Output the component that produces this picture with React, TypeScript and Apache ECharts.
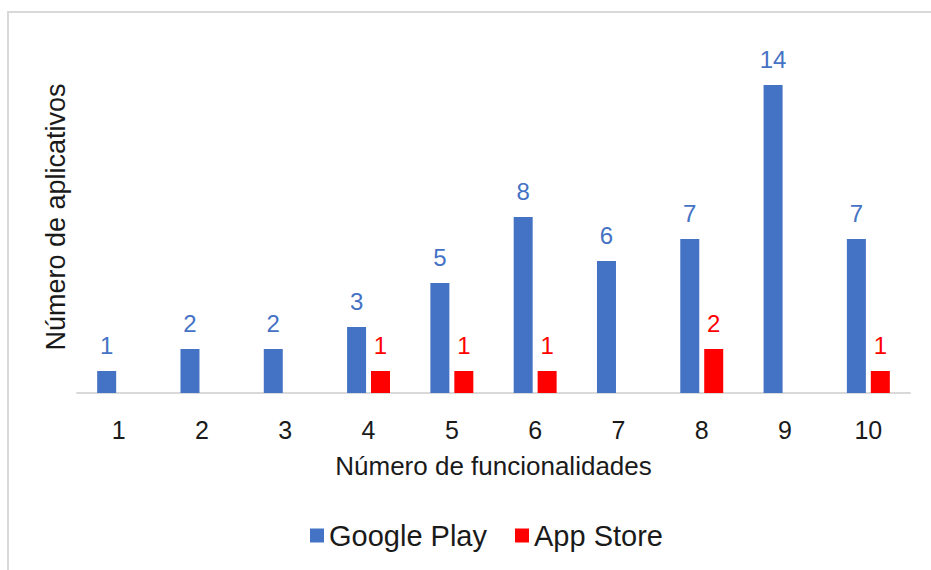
import React, { useEffect, useRef } from "react";
import * as echarts from "echarts";

const categories = ["1", "2", "3", "4", "5", "6", "7", "8", "9", "10"];
const googlePlay = [1, 2, 2, 3, 5, 8, 6, 7, 14, 7];
const appStore = [null, null, null, 1, 1, 1, null, 2, null, 1];

const FONT = "'Liberation Sans', Arial, sans-serif";
const BLUE = "#4472C4";
const RED = "#FF0000";
const INK = "#1a1a1a";

export default function App() {
  const ref = useRef<HTMLDivElement>(null);

  useEffect(() => {
    if (!ref.current) return;
    const chart = echarts.init(ref.current, null, { renderer: "svg" });
    chart.setOption({
      animation: false,
      backgroundColor: "#ffffff",
      textStyle: { fontFamily: FONT },
      graphic: [
        {
          type: "rect",
          shape: { x: 8, y: 12, width: 940, height: 580 },
          style: { fill: "none", stroke: "#d9d9d9", lineWidth: 2 },
          silent: true,
          z: -10,
        },
      ],
      grid: { left: 77, right: 21, top: 41, bottom: 177 },
      legend: {
        bottom: 15,
        left: 305,
        itemWidth: 14,
        itemHeight: 14,
        itemGap: 28,
        icon: "rect",
        textStyle: { fontSize: 29, color: INK, fontFamily: FONT },
        data: ["Google Play", "App Store"],
      },
      xAxis: {
        type: "category",
        data: categories,
        name: "Número de funcionalidades",
        nameLocation: "middle",
        nameGap: 60,
        nameTextStyle: { fontSize: 26, color: INK, fontFamily: FONT },
        axisLine: { lineStyle: { color: "#d9d9d9", width: 2 } },
        axisTick: { show: false },
        axisLabel: { fontSize: 25, color: INK, margin: 24, fontFamily: FONT },
      },
      yAxis: {
        type: "value",
        min: 0,
        max: 16,
        interval: 2,
        name: "Número de aplicativos",
        nameLocation: "middle",
        nameGap: 8,
        nameRotate: 90,
        nameTextStyle: { fontSize: 27, color: INK, fontFamily: FONT },
        axisLine: { show: false },
        axisTick: { show: false },
        axisLabel: { show: false },
        splitLine: { show: false },
      },
      series: [
        {
          name: "Google Play",
          type: "bar",
          data: googlePlay,
          barWidth: 19,
          barGap: "26%",
          itemStyle: { color: BLUE },
          label: {
            show: true,
            position: "top",
            distance: 14,
            fontSize: 24,
            color: BLUE,
            fontFamily: FONT,
          },
        },
        {
          name: "App Store",
          type: "bar",
          data: appStore,
          barWidth: 19,
          itemStyle: { color: RED },
          label: {
            show: true,
            position: "top",
            distance: 14,
            fontSize: 24,
            color: RED,
            fontFamily: FONT,
          },
        },
      ],
    });
    return () => chart.dispose();
  }, []);

  return (
    <div
      ref={ref}
      style={{ position: "absolute", left: 0, top: 0, width: 931, height: 570 }}
    />
  );
}
